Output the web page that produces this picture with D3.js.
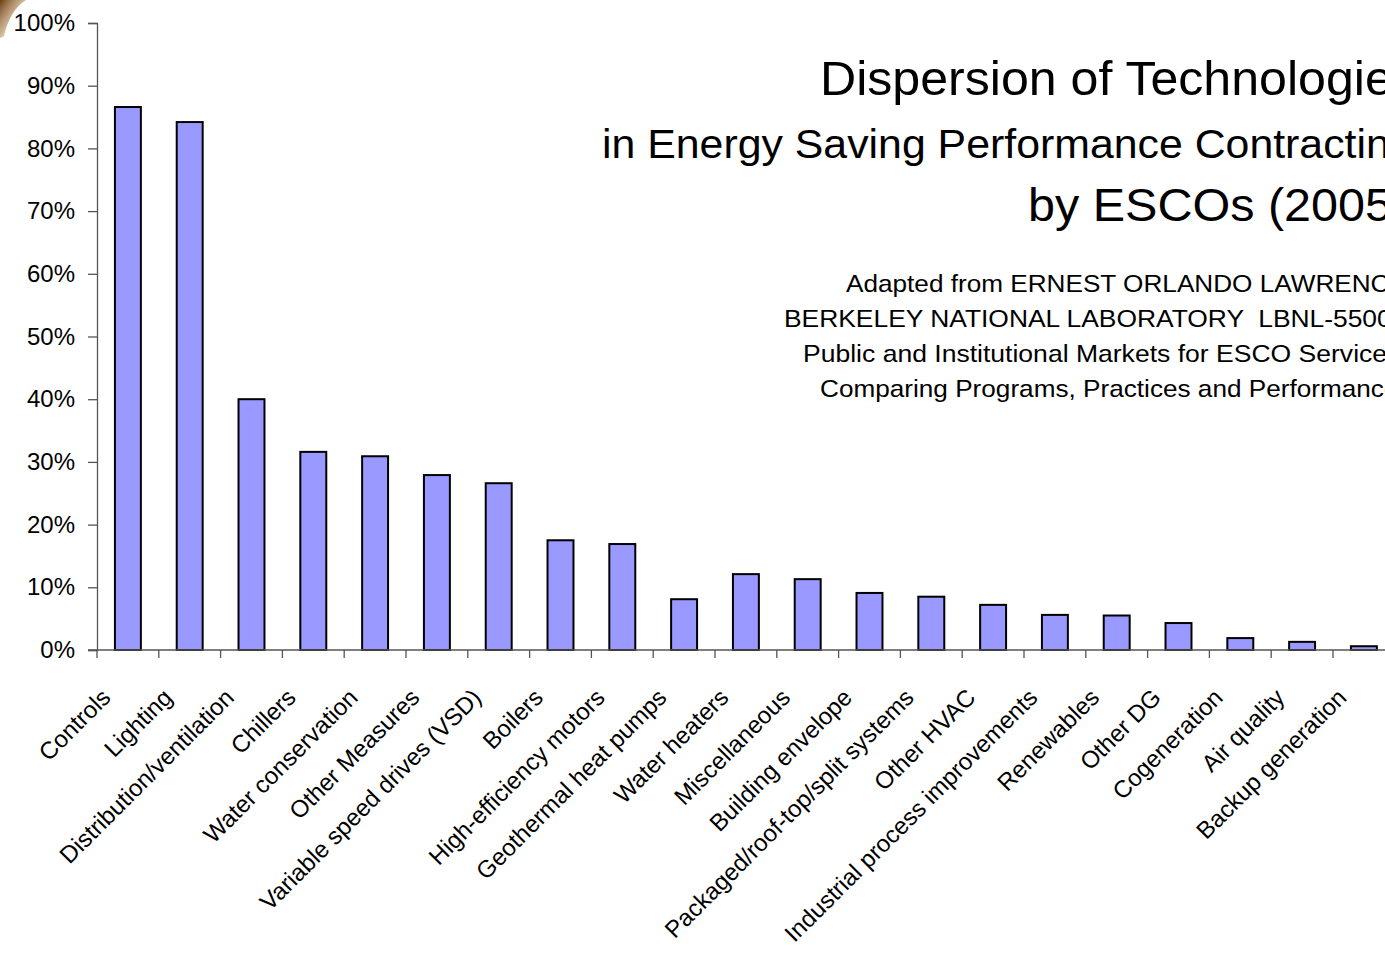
<!DOCTYPE html>
<html>
<head>
<meta charset="utf-8">
<script src="https://cdn.jsdelivr.net/npm/d3@7"></script>
<style>
  body { margin: 0; background: #fff; overflow: hidden; }
  svg { display: block; font-family: "Liberation Sans", Arial, sans-serif; }
</style>
</head>
<body>
<div id="chart"></div>
<script>
// Technologies and share of ESCO projects
const categories = ['Controls', 'Lighting', 'Distribution/ventilation', 'Chillers', 'Water conservation',
    'Other Measures', 'Variable speed drives (VSD)', 'Boilers', 'High-efficiency motors',
    'Geothermal heat pumps', 'Water heaters', 'Miscellaneous', 'Building envelope',
    'Packaged/roof-top/split systems', 'Other HVAC', 'Industrial process improvements',
    'Renewables', 'Other DG', 'Cogeneration', 'Air quality', 'Backup generation'];
const shares = [0.866, 0.842, 0.400, 0.316, 0.309, 0.279, 0.266, 0.175, 0.169, 0.081, 0.121,
    0.113, 0.091, 0.085, 0.072, 0.056, 0.055, 0.043, 0.019, 0.013, 0.006];
const yTicks = [0, 0.1, 0.2, 0.3, 0.4, 0.5, 0.6, 0.7, 0.8, 0.9, 1];
const titleLines = ['Dispersion of Technologies', 'in Energy Saving Performance Contracting', 'by ESCOs (2005)'];
const sourceLines = ['Adapted from ERNEST ORLANDO LAWRENCE',
    'BERKELEY NATIONAL LABORATORY  LBNL-55002',
    'Public and Institutional Markets for ESCO Services:',
    'Comparing Programs, Practices and Performance'];

const W = 1385, H = 953;
const mLeft = 97, mTop = 23, mBottom = 650;
const step = 61.8;

let svg = d3.select('#chart').append('svg')
    .attr('width', W)
    .attr('height', H);

// little brown corner decoration
let grad = svg.append('defs').append('linearGradient')
    .attr('id', 'corner').attr('x1', 0).attr('y1', 0).attr('x2', 1).attr('y2', 1);
grad.append('stop').attr('offset', 0).attr('stop-color', '#6b3f12');
grad.append('stop').attr('offset', 1).attr('stop-color', '#e0b070').attr('stop-opacity', 0);
svg.append('path')
    .attr('d', 'M0,0 L26,0 Q10,10 4,36 L0,38 Z')
    .attr('fill', 'url(#corner)');

let x = d3.scaleBand()
    .domain(categories)
    .range([mLeft, mLeft + step * categories.length])
    .paddingInner(0.58)
    .paddingOuter(0.29);

let y = d3.scaleLinear()
    .domain([0, 1])
    .range([mBottom, mTop]);

// y axis
let yAxis = svg.append('g')
    .attr('transform', `translate(${mLeft},0)`)
    .call(d3.axisLeft(y).tickValues(yTicks).tickFormat(d3.format('.0%')).tickSize(9).tickPadding(13));
yAxis.select('.domain').attr('stroke', '#555').attr('stroke-width', 1.3);
yAxis.selectAll('.tick line').attr('stroke', '#555').attr('stroke-width', 1.3);
yAxis.selectAll('.tick text')
    .attr('font-family', '"Liberation Sans", Arial, sans-serif')
    .attr('font-size', 24)
    .attr('fill', '#000');

// bars
svg.append('g').selectAll('rect')
    .data(categories)
    .enter().append('rect')
    .attr('x', d => x(d))
    .attr('y', (d, i) => y(shares[i]))
    .attr('width', x.bandwidth())
    .attr('height', (d, i) => mBottom - y(shares[i]))
    .attr('fill', '#9999ff')
    .attr('stroke', '#000')
    .attr('stroke-width', 2);

// x axis line and category separators
svg.append('line')
    .attr('x1', mLeft - 9).attr('x2', W)
    .attr('y1', mBottom).attr('y2', mBottom)
    .attr('stroke', '#555').attr('stroke-width', 1.3);
svg.append('g').selectAll('line')
    .data(d3.range(categories.length + 1))
    .enter().append('line')
    .attr('x1', i => mLeft + i * step).attr('x2', i => mLeft + i * step)
    .attr('y1', mBottom).attr('y2', mBottom + 8)
    .attr('stroke', '#555').attr('stroke-width', 1.3);

// rotated category labels
svg.append('g').selectAll('text')
    .data(categories)
    .enter().append('text')
    .attr('transform', d => `translate(${x(d) + x.bandwidth() / 2 - 16},${mBottom + 49}) rotate(-45)`)
    .attr('text-anchor', 'end')
    .attr('font-size', 24)
    .text(d => d);

// title, left edge fixed; the right end runs off the page
let titleX = [820, 602, 1028];
let titleY = [95, 158, 221];
let titleSize = [47.5, 40.6, 46];
svg.append('g').selectAll('text')
    .data(titleLines)
    .enter().append('text')
    .attr('transform', (d, i) => `translate(${titleX[i]},${titleY[i]}) scale(1.055,1)`)
    .attr('font-size', (d, i) => titleSize[i])
    .text(d => d);

// source note, also running off the right edge
let srcX = [846, 784, 803, 820];
let srcStretch = [1.09, 1.1, 1.106, 1.09];
svg.append('g').selectAll('text')
    .data(sourceLines)
    .enter().append('text')
    .attr('transform', (d, i) => `translate(${srcX[i]},${292 + i * 35}) scale(${srcStretch[i]},1)`)
    .attr('font-size', 24)
    .style('white-space', 'pre')
    .text(d => d);
</script>
</body>
</html>
